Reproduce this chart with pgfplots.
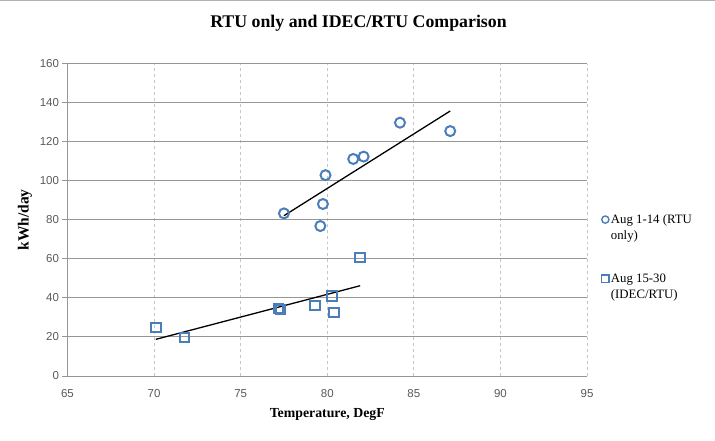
\documentclass[border=0pt]{standalone}
\usepackage{fontspec}
\setmainfont{Liberation Serif}
\setsansfont{Liberation Sans}
\usepackage{pgfplots}
\pgfplotsset{compat=1.18}
\definecolor{mblue}{HTML}{4A7EBB}
\definecolor{tickgray}{HTML}{595959}
\definecolor{hgrid}{HTML}{969696}
\definecolor{vgrid}{HTML}{C4C4C4}
\begin{document}
\begin{tikzpicture}
\path[use as bounding box] (0,0) rectangle (715bp,441bp);
\draw[gray!60, line width=1bp] (0,440.5bp) -- (715bp,440.5bp);
\node[font=\fontsize{17.8bp}{20bp}\selectfont\bfseries] at (358.5bp,418bp) {RTU only and IDEC/RTU Comparison};
\begin{axis}[
  at={(67.5bp,65bp)}, anchor=south west,
  scale only axis, width=519.5bp, height=312bp,
  xmin=65, xmax=95, ymin=0, ymax=160,
  xtick={65,70,...,95}, ytick={0,20,...,160},
  axis x line*=bottom, axis y line*=left,
  axis line style={hgrid, line width=1bp},
  xmajorgrids, ymajorgrids,
  x grid style={vgrid, dashed, line width=0.8bp},
  y grid style={hgrid, line width=1bp},
  tick align=outside, major tick length=5bp,
  xtick style={draw=none},
  ytick style={hgrid, line width=1bp},
  /pgf/number format/assume math mode=true,
  tick label style={font=\sffamily\fontsize{11.5bp}{13bp}\selectfont, text=tickgray},
  xticklabel style={yshift=-5bp},
  xlabel={Temperature, DegF},
  ylabel={kWh/day},
  xlabel style={font=\fontsize{13.8bp}{16bp}\selectfont\bfseries, at={(axis description cs:0.5,0)}, anchor=center, yshift=-39bp},
  ylabel style={font=\fontsize{15.5bp}{18bp}\selectfont\bfseries, at={(axis description cs:-0.0818,0.5)}, anchor=center},
  legend style={at={(axis description cs:1.028,0.525)}, anchor=north west, draw=none, fill=none,
    font=\fontsize{12.8bp}{16.5bp}\selectfont, row sep=45bp, inner sep=0bp, column sep=0bp},
  legend cell align=left,
  legend image code/.code={\draw[#1, mark size=3.6bp, line width=1.4bp] plot coordinates {(0bp,0bp)};},
  clip=false,
]
\addplot[only marks, mark=o, mark size=5bp, mblue, line width=2bp] coordinates {
(77.5,83.4) (79.9,103.0) (79.75,88.2) (79.6,76.9) (81.5,111.3) (82.1,112.5) (84.2,129.9) (87.1,125.6)
};
\addlegendentry{\parbox[t]{90bp}{Aug 1-14 (RTU\\only)}}
\addplot[only marks, mark=square, mark size=4.7bp, mblue, line width=2bp] coordinates {
(70.1,24.8) (71.76,19.8) (77.2,34.7) (77.3,34.0) (79.3,36.0) (80.27,41.0) (80.4,32.6) (81.9,60.9)
};
\addlegendentry{\parbox[t]{90bp}{Aug 15-30\\(IDEC/RTU)}}
\addplot[black, line width=1.3bp, forget plot] coordinates {(77.5,82.2) (87.1,135.9)};
\addplot[black, line width=1.3bp, forget plot] coordinates {(70.1,18.8) (81.9,46.3)};
\end{axis}
\end{tikzpicture}
\end{document}
